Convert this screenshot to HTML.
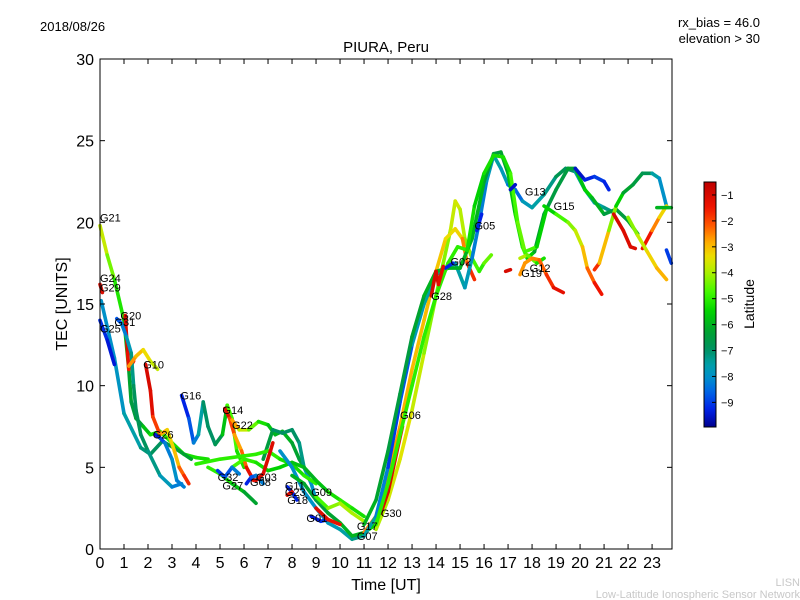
<!DOCTYPE html>
<html><head><meta charset="utf-8"><style>
body{margin:0;background:#fff;}
svg{display:block;font-family:"Liberation Sans","DejaVu Sans",sans-serif;}
</style></head><body>
<svg id="chart" width="800" height="600" viewBox="0 0 800 600" xmlns="http://www.w3.org/2000/svg">
<rect width="800" height="600" fill="#fff"/>
<text x="40" y="31" font-size="13">2018/08/26</text>
<text x="760" y="27" font-size="13" text-anchor="end">rx_bias = 46.0</text>
<text x="760" y="43" font-size="13" text-anchor="end">elevation &gt; 30</text>
<text x="386" y="52" font-size="15" text-anchor="middle">PIURA, Peru</text>
<text x="0" y="0" font-size="16" text-anchor="middle" transform="translate(67,304) rotate(-90)">TEC [UNITS]</text>
<text x="386" y="590" font-size="16" text-anchor="middle">Time [UT]</text>
<text x="0" y="0" font-size="14" text-anchor="middle" transform="translate(754,304) rotate(-90)">Latitude</text>
<text x="800" y="586" font-size="11" fill="#c8c8c8" text-anchor="end">LISN</text>
<text x="800" y="598" font-size="11" fill="#c8c8c8" text-anchor="end">Low-Latitude Ionospheric Sensor Network</text>
<g id="plot"></g>
<g id="cbar"></g>
</svg>
<script>
const xTicks=[0,1,2,3,4,5,6,7,8,9,10,11,12,13,14,15,16,17,18,19,20,21,22,23];
const yTicks=[0,5,10,15,20,25,30];
const cbTicks=[-1,-2,-3,-4,-5,-6,-7,-8,-9];
const satLabels=["G21","G24","G29","G20","G31","G25","G10","G16","G14","G22","G26","G32","G27","G08","G03","G11","G23","G18","G09","G01","G17","G07","G30","G06","G28","G02","G05","G19","G12","G13","G15"];
const labelTimes=[0,0,0,0.85,0.6,0,1.8,3.35,5.1,5.5,2.2,4.9,5.1,6.25,6.5,7.7,7.7,7.8,8.8,8.6,10.7,10.7,11.7,12.5,13.8,14.6,15.6,17.55,17.9,17.7,18.9];
const labelTecs=[20.3,16.6,16,14.3,13.9,13.5,11.3,9.4,8.5,7.6,7,4.4,3.9,4.1,4.4,3.9,3.5,3,3.5,1.9,1.4,0.8,2.2,8.2,15.5,17.6,19.8,16.9,17.2,21.9,21];
const trackData=[
[[0,19.8,-3.5],[0.3,18,-4],[0.6,16.5,-4.8],[1,14,-5.5],[1.2,11,-6],[1.3,9,-6.5],[1.5,8,-6.5],[1.8,7.5,-6],[2.1,7,-5.5],[2.5,7.2,-5],[3,6.5,-5],[3.5,5.8,-5.5],[4,5.6,-5],[4.5,5.5,-5.5]],
[[0,16.2,-1],[0.1,15.7,-1.2]],
[[0.05,15.2,-8],[0.6,11.7,-8],[1,8.3,-7.8],[1.7,6.2,-7.3],[2.1,5.8,-7],[2.6,6.6,-6.8],[3.3,6,-6.5],[3.8,5.5,-6]],
[[0,14,-9],[0.3,12.8,-9.3],[0.6,11.3,-9.5]],
[[1.05,14.3,-1],[1.15,12,-1.2],[1.2,11,-1.5],[1.4,11.5,-1.8]],
[[0.7,14.1,-9],[0.9,13.8,-8.5],[1.1,13,-8],[1.3,12,-7.5],[1.4,10,-7],[1.5,8.5,-6.8],[1.7,7,-6.8],[2,6,-7],[2.5,4.5,-7.5],[3,3.8,-8],[3.4,4,-8.5]],
[[1.2,11.2,-2.5],[1.5,11.8,-2.8],[1.8,12.2,-3.2],[2.1,11.5,-3.5],[2.4,11,-4]],
[[1.9,11.3,-1],[2.1,9.7,-1],[2.2,8.1,-1.3],[2.5,7,-2.5],[2.8,7.3,-3],[3.1,6,-3.5],[3.3,5,-2.5],[3.5,4.5,-2],[3.7,4,-1.5]],
[[3.4,9.4,-9.5],[3.7,8,-9],[3.9,6.5,-8.5],[4.1,7,-8],[4.3,9,-7],[4.5,7.5,-7],[4.8,6.4,-7],[5.1,7,-6.5],[5.3,8.8,-5],[5.5,8,-4.5],[5.7,6,-5],[6,5,-5.5]],
[[5.2,8.6,-1],[5.4,8,-1.5],[5.6,7,-2.5],[5.9,6,-3],[6.1,5,-1.5],[6.4,4.2,-1]],
[[5.5,7.9,-2],[5.8,7.3,-3.5],[6.2,7.3,-4],[6.6,7.8,-5],[7,7.6,-5.5],[7.3,7,-6],[7.6,7.2,-6],[8,6.5,-6],[8.3,5.5,-6.5],[8.7,4.5,-6.5]],
[[6.8,5.5,-6],[7.2,7.3,-7],[7.6,7.1,-7],[8,7.3,-7],[8.3,6.5,-7],[8.5,5,-7.5],[8.8,4,-8],[9,3,-8]],
[[4.5,5,-5],[5,4.6,-5],[5.5,4,-5.5],[6,3.5,-6],[6.5,2.8,-6.5]],
[[4,5.2,-5],[5,5.5,-5],[6,5.7,-5],[6.5,5.8,-5],[7,6,-5],[7.5,5.5,-5],[8,5.2,-5.5],[8.5,4.5,-5],[9,4,-5]],
[[5.5,5,-4.5],[6,5.5,-5],[6.5,5.3,-5],[7,4.8,-5.5],[7.5,5,-5.5],[8,5.3,-5.5],[8.5,5,-6],[9,4.2,-6],[9.5,3.5,-5.5],[10,3,-5],[10.5,2.5,-5],[11,2,-5.5]],
[[2.3,7,-9.5],[2.5,6.8,-9.3],[2.7,6.5,-8.5],[3,5.5,-8],[3.2,4.2,-8],[3.5,3.8,-8.5]],
[[4.9,4.8,-9],[5.2,4.4,-9],[5.5,5,-8.5],[5.8,4.6,-8]],
[[6.1,4,-9.5],[6.3,4.4,-9],[6.5,4.5,-8.5],[6.8,4,-8]],
[[6.5,4.2,-1],[6.8,4.6,-1],[7.1,6,-1.2],[7.2,6.5,-1]],
[[7.8,3.8,-9.5],[8,3.5,-9],[8.2,3,-9.5]],
[[7.8,3.3,-1],[8,3.5,-1.2]],
[[7.5,6,-8],[8,5,-8],[8.5,3.5,-8],[9,2.5,-8],[9.5,1.6,-8],[10,1.2,-7.5],[10.5,0.6,-7.5],[11,0.8,-7]],
[[8,4.5,-6],[8.5,4,-6],[9,3,-6.5],[9.5,2.2,-6.5],[10,1.6,-6],[10.5,0.8,-6],[11,1,-6],[11.5,1.5,-5]],
[[8.8,2,-9.5],[9.2,1.7,-9.3],[9.5,1.8,-9]],
[[9,3.2,-5],[9.5,2.5,-4.5],[10,2.8,-4],[10.5,2.2,-4],[11,1.7,-4]],
[[9,2.5,-1],[9.5,1.8,-1.2],[10,1.5,-1.5]],
[[11.5,1.2,-4],[12,3,-3.8],[12.5,5.5,-3.5],[13,8.5,-3.5],[13.5,12,-4],[14,15.5,-4.5],[14.3,17.5,-4.5],[14.6,19.5,-4],[14.8,21.3,-3.5],[15,20.8,-3.8],[15.2,19,-4],[15.5,17.8,-4.5],[15.8,17,-5],[16,17.5,-5],[16.3,18,-4]],
[[11.7,2.2,-1],[12,3.5,-1],[12.3,5.5,-1],[12.6,7.5,-1.5]],
[[11,1,-2.5],[11.5,2,-2.5],[12,4.5,-2.5],[12.5,7.5,-2.8],[13,11,-3],[13.5,14,-3],[14,17,-3],[14.4,19,-3.2],[14.8,19.6,-3.5],[15.1,19,-3],[15.3,17.5,-2],[15.6,16.5,-1.5]],
[[11,0.8,-7],[11.5,2,-8],[12,5,-8.5],[12.5,9,-9.5],[13,12.5,-8],[13.5,15,-7.5],[14,16.8,-7.5],[14.5,17.2,-7.8],[14.8,17.5,-7.5],[15.2,16,-7.5],[15.5,17.8,-8],[15.8,20,-8.5],[16.1,22.5,-8],[16.4,24.1,-7.5],[16.7,23.3,-7.5],[17,22.3,-8],[17.3,22,-9],[17.6,21.3,-8],[18,20.9,-7.5],[18.5,21.7,-7.5],[19,22.8,-7],[19.4,23.3,-6.5],[19.8,23.1,-7.5],[20.2,22,-7.5],[20.6,21.2,-7.5],[21,20.9,-7.5],[21.4,20.6,-7]],
[[11,1.5,-6],[11.5,3,-6],[12,6,-6.5],[12.5,9.5,-6.5],[13,13,-6.5],[13.5,15.5,-6],[14,17,-6],[14.5,17.2,-6],[15,17.2,-6],[15.5,19,-6],[16,22.5,-6],[16.4,24.2,-6.5],[16.7,24.3,-6.5],[17,23,-6],[17.3,20.5,-5.5],[17.6,18.5,-5],[17.8,17.8,-5],[18.1,18.2,-6],[18.5,20.5,-6.5],[19,22,-6.5],[19.5,23.3,-6.5],[19.8,23.3,-6],[20.2,22,-5.5],[20.5,21.5,-5.5],[21,20.5,-6.5],[21.5,20.8,-6.5],[22,20.1,-6.5],[22.4,19.3,-6]],
[[11.5,1.5,-5],[12,4,-5],[12.5,7,-5],[13,10,-5],[13.5,13,-5],[14,15.5,-5],[14.5,17.5,-5],[14.9,18.5,-5],[15.3,18.3,-5],[15.6,21,-5.5],[16,23,-5.5],[16.4,24.1,-5],[16.8,24,-5.5],[17.1,23,-5],[17.4,20,-4.5],[17.7,18.2,-4.5],[18.2,18.5,-5],[18.6,20.8,-6]],
[[15.7,19.5,-9.5],[15.9,20.5,-9]],
[[17.1,22,-9.5],[17.3,22.3,-9.5]],
[[14.4,17.2,-9],[14.7,17.5,-9.5]],
[[13.8,15.5,-1],[14,17,-1],[14.1,16.2,-1],[14.3,17.3,-1.5]],
[[17.5,17.8,-3.8],[17.8,18,-4],[18.2,17.5,-5],[18.5,17.8,-5.5]],
[[17.5,16.8,-2.5],[17.7,17.5,-2.8],[18,17.8,-2.5],[18.3,17.7,-2.5],[18.6,16.8,-2],[18.9,16,-1.5],[19.3,15.7,-1]],
[[16.9,17,-1],[17.1,17.1,-1]],
[[18.5,21,-6],[19,20.5,-5],[19.5,20,-4.5],[19.8,19.5,-4],[20.1,18.5,-3.5],[20.3,17.2,-2.5],[20.6,16.3,-2],[20.9,15.6,-1]],
[[20.6,17.1,-1],[20.8,17.5,-2.5],[21.2,19.5,-3.5],[21.5,21,-5],[21.8,21.8,-6],[22.2,22.3,-6.5],[22.6,23,-6.5],[23,23,-7],[23.3,22.7,-8],[23.6,21,-8]],
[[21.4,20.5,-1],[21.8,19.5,-1],[22.1,18.5,-1.2],[22.3,18.4,-1]],
[[22.6,18.4,-1],[23,19.5,-2],[23.3,20.3,-3],[23.6,21,-3.5]],
[[22,20.3,-4.5],[22.4,19.2,-4],[22.8,18.2,-3.5],[23.2,17.2,-3],[23.6,16.5,-2.8]],
[[23.2,20.9,-6],[23.8,20.9,-6]],
[[23.6,18.3,-9],[23.8,17.5,-9]],
[[19.8,23.3,-9.5],[20.2,22.6,-9.5],[20.6,22.8,-9],[21,22.5,-9],[21.2,22,-9.5]]
];
const X0=100,X1=672,Y0=549,Y1=59,TMAX=23.83,VMAX=30;
const LMIN=-9.95,LMAX=-0.5;
function xs(t){return X0+(X1-X0)*t/TMAX;}
function ys(v){return Y0-(Y0-Y1)*v/VMAX;}
// colormap (style stops, latitude -> colour)
const CMAP=[[-9.95,[0,0,140]],[-9.3,[0,30,230]],[-8.6,[0,100,230]],[-8,[0,145,200]],[-7.5,[0,160,165]],[-7,[0,145,100]],[-6.3,[0,160,50]],[-5.5,[0,210,0]],[-4.8,[60,250,0]],[-4,[170,240,0]],[-3.4,[235,225,0]],[-2.8,[255,170,0]],[-2.2,[255,90,0]],[-1.5,[240,20,0]],[-0.5,[190,0,0]]];
function jet(lat){
 if(lat<=CMAP[0][0])return `rgb(${CMAP[0][1].join(',')})`;
 for(let i=0;i<CMAP.length-1;i++){const a=CMAP[i],b=CMAP[i+1];
  if(lat<=b[0]){const f=(lat-a[0])/(b[0]-a[0]);
   return `rgb(${a[1].map((c,k)=>Math.round(c+(b[1][k]-c)*f)).join(',')})`;}}
 return `rgb(${CMAP[CMAP.length-1][1].join(',')})`;}
const NS="http://www.w3.org/2000/svg";
function mk(tag,attrs,parent){const e=document.createElementNS(NS,tag);for(const k in attrs)e.setAttribute(k,attrs[k]);parent.appendChild(e);return e;}
const plot=document.getElementById('plot');
trackData.forEach((tr,i)=>{
 const g=mk('g',{},plot);
 
 
 for(let j=0;j<tr.length-1;j++){
  const a=tr[j],b=tr[j+1];
  const s=mk('line',{x1:xs(a[0]),y1:ys(a[1]),x2:xs(b[0]),y2:ys(b[1]),stroke:jet((a[2]+b[2])/2),'stroke-width':3.6,'stroke-linecap':'round'},g);
  
  
 }
});
satLabels.forEach((s,i)=>{
 const t=mk('text',{x:xs(labelTimes[i]),y:ys(labelTecs[i])+4,'font-size':11},plot);
 
 
 t.textContent=s;
});
const fr=mk('rect',{x:X0,y:Y1,width:X1-X0,height:Y0-Y1,fill:'none',stroke:'#000','stroke-width':1},plot);


xTicks.forEach(t=>{
 const x=xs(t);
 mk('line',{x1:x,y1:Y0,x2:x,y2:Y0-5,stroke:'#000'},plot);
 mk('line',{x1:x,y1:Y1,x2:x,y2:Y1+5,stroke:'#000'},plot);
 const l=mk('text',{x:x,y:Y0+19,'font-size':16,'text-anchor':'middle'},plot);
 
 
 l.textContent=t;
});
yTicks.forEach(v=>{
 const y=ys(v);
 mk('line',{x1:X0,y1:y,x2:X0+5,y2:y,stroke:'#000'},plot);
 mk('line',{x1:X1,y1:y,x2:X1-5,y2:y,stroke:'#000'},plot);
 const l=mk('text',{x:X0-6,y:y+6,'font-size':16,'text-anchor':'end'},plot);
 
 
 l.textContent=v;
});
const cb=document.getElementById('cbar');
const CX=704,CW=12,CT=182,CB=427;
const defs=mk('defs',{},cb);
const grad=mk('linearGradient',{id:'jetg',x1:0,y1:1,x2:0,y2:0},defs);
for(let k=0;k<=40;k++){const f=k/40;mk('stop',{offset:f,'stop-color':jet(LMIN+f*(LMAX-LMIN))},grad);}
const cr=mk('rect',{x:CX,y:CT,width:CW,height:CB-CT,fill:'url(#jetg)',stroke:'#000','stroke-width':1},cb);


cbTicks.forEach(v=>{
 const y=CB-(CB-CT)*(v-LMIN)/(LMAX-LMIN);
 mk('line',{x1:CX+CW-4,y1:y,x2:CX+CW,y2:y,stroke:'#000'},cb);
 const l=mk('text',{x:CX+CW+5,y:y+4,'font-size':11},cb);
 
 
 l.textContent='\u2212'+Math.abs(v);
});
</script>
</body></html>
